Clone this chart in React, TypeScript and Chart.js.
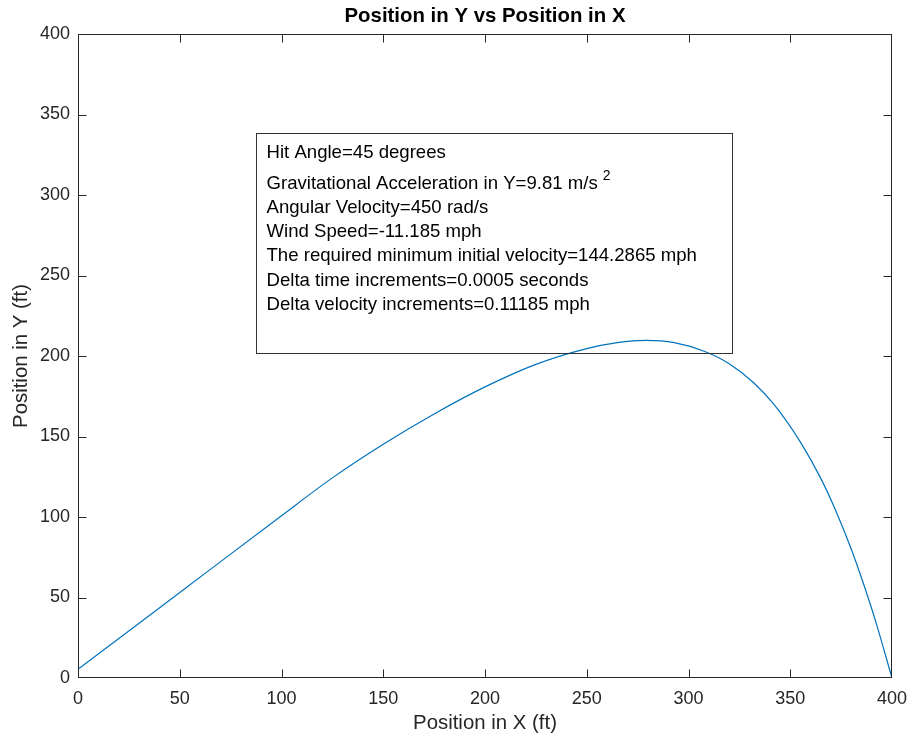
import React, { useEffect, useRef } from "react";
import { Chart, registerables } from "chart.js";

Chart.register(...registerables);

// ---- data ----
const positionX: number[] = [
  0, 50, 100, 125, 150, 175, 200, 225, 250, 265, 279, 293, 308, 320, 332, 342,
  355, 365, 372, 380, 386, 392, 400,
];
const positionY: number[] = [
  5.4, 53.1, 100.8, 124.3, 145.2, 164.0, 180.8, 194.8, 204.6, 208.3, 209.7,
  208.3, 202.8, 195.2, 183.4, 169.9, 146.5, 124, 105, 80, 58.5, 35, 0,
];
const xTickValues: number[] = [0, 50, 100, 150, 200, 250, 300, 350, 400];
const yTickValues: number[] = [0, 50, 100, 150, 200, 250, 300, 350, 400];

const chartTitle = "Position in Y vs Position in X";
const xAxisLabel = "Position in X (ft)";
const yAxisLabel = "Position in Y (ft)";

const infoLines: string[] = [
  "Hit Angle=45 degrees",
  "Gravitational Acceleration in Y=9.81 m/s",
  "Angular Velocity=450 rad/s",
  "Wind Speed=-11.185 mph",
  "The required minimum initial velocity=144.2865 mph",
  "Delta time increments=0.0005 seconds",
  "Delta velocity increments=0.11185 mph",
];
const infoSuperscript = { line: 1, text: "2" };
// annotation box corners in data units
const infoBoxX: number[] = [87.5, 321.5];
const infoBoxY: number[] = [338.5, 202];

// ---- styles ----
const FONT = '"Liberation Sans", Arial, Helvetica, sans-serif';
const AXIS_COLOR = "#262626";
const LINE_COLOR = "#0072BD";
const TICK_LEN = 8;

const decorPlugin = {
  id: "decor",
  afterDatasetsDraw(chart: any) {
    const { ctx, chartArea: a, scales } = chart;
    const xs = scales.x;
    const ys = scales.y;
    ctx.save();

    // axes box
    ctx.strokeStyle = AXIS_COLOR;
    ctx.lineWidth = 1;
    const L = Math.round(a.left) + 0.5;
    const R = Math.round(a.right) - 0.5;
    const T = Math.round(a.top) + 0.5;
    const B = Math.round(a.bottom) - 0.5;
    ctx.strokeRect(L, T, R - L, B - T);

    // inward ticks on all four sides
    ctx.beginPath();
    xTickValues.forEach((v) => {
      const px = Math.min(R, Math.round(xs.getPixelForValue(v)) + 0.5);
      ctx.moveTo(px, B);
      ctx.lineTo(px, B - TICK_LEN);
      ctx.moveTo(px, T);
      ctx.lineTo(px, T + TICK_LEN);
    });
    yTickValues.forEach((v) => {
      const py = Math.min(B, Math.round(ys.getPixelForValue(v)) + 0.5);
      ctx.moveTo(L, py);
      ctx.lineTo(L + TICK_LEN, py);
      ctx.moveTo(R, py);
      ctx.lineTo(R - TICK_LEN, py);
    });
    ctx.stroke();

    // annotation text box
    const bx1 = Math.round(xs.getPixelForValue(infoBoxX[0])) + 0.5;
    const bx2 = Math.round(xs.getPixelForValue(infoBoxX[1])) + 0.5;
    const by1 = Math.round(ys.getPixelForValue(infoBoxY[0])) + 0.5;
    const by2 = Math.round(ys.getPixelForValue(infoBoxY[1])) + 0.5;
    ctx.strokeStyle = "#333333";
    ctx.strokeRect(bx1, by1, bx2 - bx1, by2 - by1);

    ctx.fillStyle = "#000000";
    ctx.textAlign = "left";
    ctx.textBaseline = "alphabetic";
    infoLines.forEach((line, i) => {
      const y = by1 + 24 + (i >= 1 ? 7 : 0) + i * 24.2;
      const x = bx1 + 10;
      ctx.font = `18.6px ${FONT}`;
      ctx.fillText(line, x, y);
      if (i === infoSuperscript.line) {
        const w = ctx.measureText(line).width;
        ctx.font = `14px ${FONT}`;
        ctx.fillText(infoSuperscript.text, x + w + 5, y - 9);
      }
    });

    // title, centred over the axes
    ctx.fillStyle = "#000000";
    ctx.textAlign = "center";
    ctx.textBaseline = "middle";
    ctx.font = `bold 20.4px ${FONT}`;
    ctx.fillText(chartTitle, (a.left + a.right) / 2, 16);

    ctx.restore();
  },
};

export default function App() {
  const canvasRef = useRef<HTMLCanvasElement | null>(null);

  useEffect(() => {
    if (!canvasRef.current) return;
    const points = positionX.map((x, i) => ({ x, y: positionY[i] }));
    const chart = new Chart(canvasRef.current, {
      type: "line",
      data: {
        datasets: [
          {
            data: points,
            borderColor: LINE_COLOR,
            borderWidth: 1.2,
            pointRadius: 0,
            fill: false,
            cubicInterpolationMode: "monotone",
          },
        ],
      },
      options: {
        responsive: false,
        animation: false,
        layout: { padding: { top: 34, right: 20, left: 0, bottom: 0 } },
        plugins: {
          legend: { display: false },
          tooltip: { enabled: false },
          title: { display: false },
        },
        scales: {
          x: {
            type: "linear",
            min: 0,
            max: 400,
            afterBuildTicks: (s: any) => {
              s.ticks = xTickValues.map((v) => ({ value: v }));
            },
            ticks: {
              color: AXIS_COLOR,
              padding: 10,
              maxRotation: 0,
              autoSkip: false,
              font: { family: FONT, size: 18 },
            },
            grid: { display: false, drawTicks: false },
            border: { display: false },
            title: {
              display: true,
              text: xAxisLabel,
              color: AXIS_COLOR,
              font: { family: FONT, size: 20.4 },
              padding: { top: 0, bottom: 6 },
            },
            afterFit: (s: any) => {
              s.height = 64;
              s.paddingLeft = 0;
              s.paddingRight = 0;
            },
          },
          y: {
            type: "linear",
            min: 0,
            max: 400,
            afterBuildTicks: (s: any) => {
              s.ticks = yTickValues.map((v) => ({ value: v }));
            },
            ticks: {
              color: AXIS_COLOR,
              padding: 8,
              autoSkip: false,
              font: { family: FONT, size: 18 },
            },
            grid: { display: false, drawTicks: false },
            border: { display: false },
            title: {
              display: true,
              text: yAxisLabel,
              color: AXIS_COLOR,
              font: { family: FONT, size: 20.4 },
              padding: { top: 9, bottom: 0 },
            },
            afterFit: (s: any) => {
              s.width = 78;
              s.paddingTop = 0;
              s.paddingBottom = 0;
            },
          },
        },
      },
      plugins: [decorPlugin],
    });
    return () => chart.destroy();
  }, []);

  return (
    <div style={{ position: "absolute", left: 0, top: 0, width: 912, height: 742, background: "#ffffff" }}>
      <canvas ref={canvasRef} width={912} height={742} style={{ display: "block" }} />
    </div>
  );
}
